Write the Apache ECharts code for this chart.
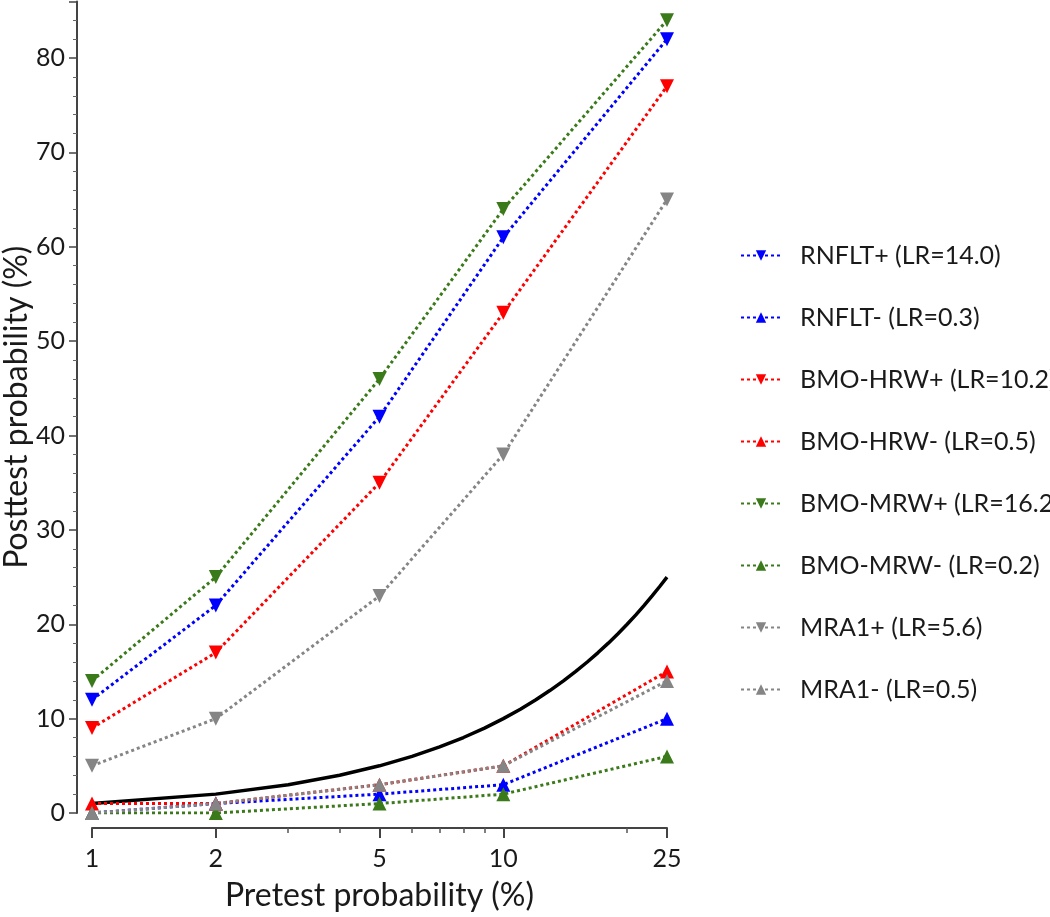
<!DOCTYPE html>
<html>
<head>
<meta charset="utf-8">
<script src="https://cdn.jsdelivr.net/npm/echarts@6/dist/echarts.min.js"></script>
<style>
html,body{margin:0;padding:0;background:#fff;}
#chart{width:1050px;height:917px;}
</style>
</head>
<body>
<div id="chart"></div>
<script>
// Data
var pretest = [1, 2, 5, 10, 25];
var rnfltPos = [12, 22, 42, 61, 82];
var rnfltNeg = [0, 1, 2, 3, 10];
var bmoHrwPos = [9, 17, 35, 53, 77];
var bmoHrwNeg = [1, 1, 3, 5, 15];
var bmoMrwPos = [14, 25, 46, 64, 84];
var bmoMrwNeg = [0, 0, 1, 2, 6];
var mra1Pos = [5, 10, 23, 38, 65];
var mra1Neg = [0, 1, 3, 5, 14];
var identityX = [1,2,3,4,5,6,7,8,9,10,11,12,13,14,15,16,17,18,19,20,21,22,23,24,25];
var identityY = [1,2,3,4,5,6,7,8,9,10,11,12,13,14,15,16,17,18,19,20,21,22,23,24,25];
var majorTicks = [1, 2, 5, 10, 25];
var minorTicks = [3, 4, 6, 7, 8, 9, 20];
var seriesNames = ['RNFLT+ (LR=14.0)', 'RNFLT- (LR=0.3)', 'BMO-HRW+ (LR=10.2)', 'BMO-HRW- (LR=0.5)',
                   'BMO-MRW+ (LR=16.2)', 'BMO-MRW- (LR=0.2)', 'MRA1+ (LR=5.6)', 'MRA1- (LR=0.5)'];

var FONT = 'Lato, "Open Sans", sans-serif';
var BLUE = '#0000ff', RED = '#ff0000', GREEN = '#3b7a1a', GREY = '#858585';

function pairs(xs, ys) { return xs.map(function (x, i) { return [x, ys[i]]; }); }

function mk(name, ys, color, down) {
  return {
    name: name, type: 'line', xAxisIndex: 0,
    data: pairs(pretest, ys),
    symbol: 'triangle', symbolSize: 14, symbolRotate: down ? 180 : 0,
    showAllSymbol: true,
    lineStyle: { color: color, width: 3, type: [3, 3] },
    itemStyle: { color: color },
    emphasis: { disabled: true },
    z: 3
  };
}

var chart = echarts.init(document.getElementById('chart'), null, { renderer: 'canvas' });
chart.setOption({
  animation: false,
  backgroundColor: '#fff',
  grid: { left: 92, right: 383, top: 1.4, bottom: 104, containLabel: false, outerBoundsMode: 'none' },
  legend: {
    orient: 'vertical', left: 735, top: 238, itemGap: 37,
    itemWidth: 40, itemHeight: 13,
    data: seriesNames,
    textStyle: { fontFamily: FONT, fontSize: 25, color: '#1a1a1a', padding: [0, 0, 0, 14], overflow: 'none' }
  },
  xAxis: [{
    type: 'log', logBase: 10, min: 1, max: 25, position: 'bottom', offset: 15,
    name: 'Pretest probability (%)', nameLocation: 'middle', nameGap: 52, nameMoveOverlap: false,
    nameTextStyle: { fontFamily: FONT, fontSize: 32, color: '#1a1a1a' },
    axisLine: { show: true, onZero: false, lineStyle: { color: '#444', width: 2 } },
    axisTick: { show: true, length: 10, customValues: majorTicks, lineStyle: { color: '#444', width: 2 } },
    axisLabel: { show: true, customValues: majorTicks, margin: 18, fontFamily: FONT, fontSize: 25, color: '#1a1a1a' },
    splitLine: { show: false }, minorTick: { show: false }
  }, {
    type: 'log', logBase: 10, min: 1, max: 25, position: 'bottom', offset: 15,
    axisLine: { show: false, onZero: false },
    axisTick: { show: true, length: 5, customValues: minorTicks, lineStyle: { color: '#555', width: 1.5 } },
    axisLabel: { show: false },
    splitLine: { show: false }
  }],
  yAxis: {
    type: 'value', min: 0, max: 86, interval: 10, offset: 15,
    name: 'Posttest probability (%)', nameLocation: 'middle', nameGap: 44, nameMoveOverlap: false,
    nameTextStyle: { fontFamily: FONT, fontSize: 32, color: '#1a1a1a' },
    axisLine: { show: true, onZero: false, lineStyle: { color: '#444', width: 2 } },
    axisTick: { show: true, length: 8, lineStyle: { color: '#444', width: 1.5 } },
    minorTick: { show: true, splitNumber: 5, length: 4, lineStyle: { color: '#666', width: 1 } },
    axisLabel: { margin: 12, fontFamily: FONT, fontSize: 25, color: '#1a1a1a', showMaxLabel: false,
      formatter: function (v) { return v % 10 === 0 ? String(v) : ''; } },
    splitLine: { show: false }
  },
  series: [{
    name: 'identity', type: 'line', data: pairs(identityX, identityY),
    showSymbol: false, symbol: 'none',
    lineStyle: { color: '#000', width: 3.5 }, emphasis: { disabled: true }, z: 2
  },
    mk(seriesNames[0], rnfltPos, BLUE, true),
    mk(seriesNames[1], rnfltNeg, BLUE, false),
    mk(seriesNames[2], bmoHrwPos, RED, true),
    mk(seriesNames[3], bmoHrwNeg, RED, false),
    mk(seriesNames[4], bmoMrwPos, GREEN, true),
    mk(seriesNames[5], bmoMrwNeg, GREEN, false),
    mk(seriesNames[6], mra1Pos, GREY, true),
    mk(seriesNames[7], mra1Neg, GREY, false)
  ]
});
</script>
</body>
</html>
